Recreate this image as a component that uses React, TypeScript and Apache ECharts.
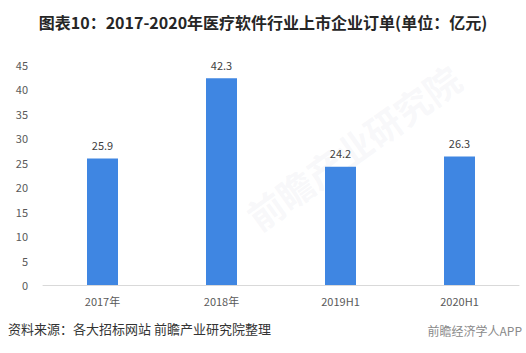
import React, { useEffect, useRef } from "react";
import * as echarts from "echarts";

const categories = ["2017年", "2018年", "2019H1", "2020H1"];
const orders = [25.9, 42.3, 24.2, 26.3];
const titleText = "图表10：2017-2020年医疗软件行业上市企业订单(单位：亿元)";
const sourceText = "资料来源：各大招标网站 前瞻产业研究院整理";
const brandText = "前瞻经济学人APP";

export default function App() {
  const ref = useRef<HTMLDivElement>(null);
  useEffect(() => {
    if (!ref.current) return;
    const chart = echarts.init(ref.current, undefined, { renderer: "svg" });
    chart.setOption({
      animation: false,
      backgroundColor: "#ffffff",
      title: {
        text: titleText,
        left: "center",
        top: 9,
        textStyle: {
          fontFamily: "Noto Sans CJK SC",
          fontSize: 16,
          fontWeight: "bold",
          color: "#262626",
        },
      },
      grid: { left: 43, right: 7, top: 65, bottom: 68 },
      xAxis: {
        type: "category",
        data: categories,
        axisLine: { lineStyle: { color: "#d9d9d9", width: 1 } },
        axisTick: { show: false },
        axisLabel: {
          color: "#595959",
          fontSize: 11,
          margin: 10,
          fontFamily: "Noto Sans CJK SC",
        },
      },
      yAxis: {
        type: "value",
        min: 0,
        max: 45,
        interval: 5,
        axisLine: { show: false },
        axisTick: { show: false },
        splitLine: { show: false },
        axisLabel: {
          color: "#595959",
          fontSize: 11,
          margin: 15,
          fontFamily: "Noto Sans CJK SC",
        },
      },
      graphic: [
        {
          type: "text",
          left: 8,
          top: 322,
          style: {
            text: sourceText,
            fontSize: 13,
            fill: "#333333",
            fontFamily: "Noto Sans CJK SC",
          },
        },
        {
          type: "text",
          right: 4,
          top: 324,
          style: {
            text: brandText,
            fontSize: 12,
            fill: "#8a8a8a",
            fontFamily: "Noto Sans CJK SC",
          },
        },
        {
          type: "text",
          x: 240,
          y: 205,
          rotation: 0.62,
          z: -1,
          style: {
            text: "前瞻产业研究院",
            fontSize: 36,
            fontWeight: "bold",
            fill: "rgba(200,205,215,0.14)",
            fontFamily: "Noto Sans CJK SC",
          },
        },
      ],
      series: [
        {
          type: "bar",
          data: orders,
          barWidth: 31,
          itemStyle: { color: "#3F86E2" },
          label: {
            show: true,
            position: "top",
            distance: 8,
            color: "#404040",
            fontSize: 11,
            fontFamily: "Noto Sans CJK SC",
          },
        },
      ],
    });
    return () => chart.dispose();
  }, []);
  return <div ref={ref} style={{ width: 526, height: 353, position: "absolute", left: 0, top: 0 }} />;
}
